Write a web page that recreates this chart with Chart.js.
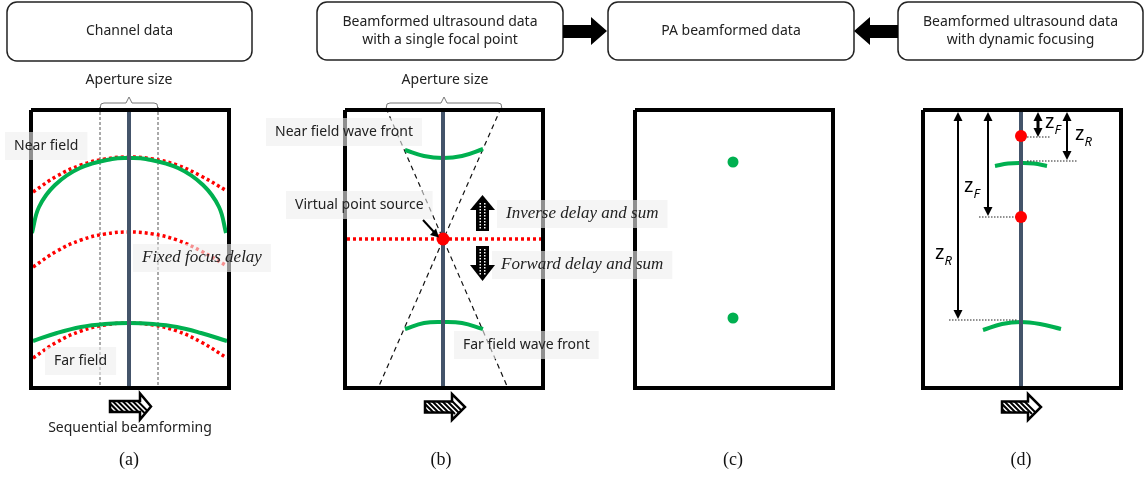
<!DOCTYPE html>
<html>
<head>
<meta charset="utf-8">
<script src="https://cdn.jsdelivr.net/npm/chart.js@4.4.1/dist/chart.umd.min.js"></script>
<style>
html, body { margin: 0; padding: 0; background: #fff; }
#wrap { width: 1148px; height: 477px; position: relative; }
</style>
</head>
<body>
<div id="wrap"><canvas id="fig"></canvas></div>
<script>
// (a) channel data: wave fronts
var nearGreen = [[32,233],[39,207],[55,185],[80,168],[112,159],[129,158],[146,159],[178,168],[203,185],[219,207],[226,233]];
var nearRed = [[33,192],[57,176],[81,165],[105,159],[129,157],[153,159],[177,165],[201,176],[227,191]];
var focusRed = [[33,267],[57,251],[81,240],[105,234],[129,232],[153,234],[177,240],[201,251],[227,266]];
var farGreen = [[33,341],[57,333],[81,327],[105,324],[129,323],[153,324],[177,327],[201,333],[227,341]];
var farRed = [[33,358],[57,342],[81,331],[105,325],[129,323],[153,325],[177,331],[201,342],[227,358]];
var apertureA = [100, 158];

// (b) single focal point
var bNearFront = [[405,150],[424,156],[443,158],[462,156],[483,149]];
var bFarFront = [[405,329],[424,323],[443,322],[462,323],[483,329]];
var bConeA = [[386,108],[507,386]];
var bConeB = [[501,108],[379,386]];
var bFocusLine = [[347,239],[541,239]];
var bFocus = [[443,239]];
var bPointer = [[423,220],[434,232]];

// (c) PA data
var cSources = [[733,162],[733,318]];

// (d) dynamic focusing
var dNearFront = [[995,166],[1008,163.5],[1021,163],[1034,163.5],[1047,166]];
var dFarFront = [[983,330],[1002,324],[1021,322],[1040,324],[1061,329]];
var dFoci = [[1021,136],[1021,217]];
var dArrows = [[958,112,319],[988,112,216],[1038,112,137],[1067,112,160]];
var dGuides = [[949,1018,320],[979,1017,217],[1027,1050,137],[1027,1077,161]];
var dLabels = [['z','R',935,255],['z','F',964,188],['z','F',1045,124],['z','R',1075,136]];

// shared
var frames = [[31,110,229,388],[345,110,543,388],[635,110,833,388],[923,110,1121,388]];
var axisX = [129, 443, 1021];
var braces = [[100,158],[386,502]];
var headers = [[7,2,252,61],[317,2,563,60],[608,2,854,60],[898,2,1143,60]];
var headerText = [['Channel data'], ['Beamformed ultrasound data', 'with a single focal point'], ['PA beamformed data'], ['Beamformed ultrasound data', 'with dynamic focusing']];
var hatchArrows = [[110,140,151,406.5],[425,452,465,407],[1002,1028,1041,407]];
var captions = ['(a)', '(b)', '(c)', '(d)'];
var captionX = [129, 441, 733, 1021];

var SANS = '"Noto Sans", "Open Sans", sans-serif';
var SERIF = '"Liberation Serif", "DejaVu Serif", serif';
var labels = [
    {t: 'Aperture size', x: 129, y: 80, align: 'center'},
    {t: 'Aperture size', x: 445, y: 80, align: 'center'},
    {t: 'Near field', x: 14, y: 146, bg: true},
    {t: 'Fixed focus delay', x: 142, y: 258, bg: true, it: true},
    {t: 'Far field', x: 54, y: 361, bg: true},
    {t: 'Sequential beamforming', x: 130, y: 428, align: 'center'},
    {t: 'Near field wave front', x: 275, y: 132, bg: true},
    {t: 'Virtual point source', x: 295, y: 205, bg: true},
    {t: 'Inverse delay and sum', x: 506, y: 214, bg: true, it: true},
    {t: 'Forward delay and sum', x: 501, y: 265, bg: true, it: true},
    {t: 'Far field wave front', x: 463, y: 345, bg: true}
];

function pts(a) { return a.map(function (p) { return {x: p[0], y: p[1]}; }); }
function line(data, color, width, dash, order, tension) {
    return {
        data: pts(data), showLine: true, borderColor: color, borderWidth: width,
        borderDash: dash || [], borderCapStyle: 'butt', borderJoinStyle: 'miter',
        pointRadius: 0, tension: tension || 0, fill: false, order: order
    };
}
function dots(data, color, r) {
    return {data: pts(data), showLine: false, pointRadius: r, pointBackgroundColor: color,
        pointBorderColor: color, pointBorderWidth: 0, order: 0};
}

var RED = '#ff0000', GREEN = '#00b050', AXIS = '#44546a';
var datasets = [];
apertureA.forEach(function (x) { datasets.push(line([[x,107],[x,388]], '#555', 1, [3,2], 6)); });
braces.forEach(function (b) {
    var m = (b[0] + b[1]) / 2;
    datasets.push(line([[b[0],109],[b[0]+1,104],[b[0]+4,103],[m-3,103],[m,97],[m+3,103],[b[1]-4,103],[b[1]-1,104],[b[1],109]], '#777', 1, [], 6));
});
datasets.push(line(bConeA, '#111', 1.2, [5,4], 6));
datasets.push(line(bConeB, '#111', 1.2, [5,4], 6));
[nearRed, focusRed, farRed].forEach(function (c) { datasets.push(line(c, RED, 3.5, [3,3], 4, 0.4)); });
datasets.push(line(bFocusLine, RED, 3.5, [3,3], 4));
[nearGreen, farGreen, bNearFront, bFarFront, dNearFront, dFarFront].forEach(function (c) {
    datasets.push(line(c, GREEN, 4, [], 3, 0.4));
});
axisX.forEach(function (x) { datasets.push(line([[x,110],[x,388]], AXIS, 4, [], 2)); });
frames.forEach(function (f) {
    datasets.push(line([[f[0],f[1]],[f[2],f[1]],[f[2],f[3]],[f[0],f[3]],[f[0],f[1]]], '#000', 4, [], 1));
});
dGuides.forEach(function (g) { datasets.push(line([[g[0],g[2]],[g[1],g[2]]], '#222', 1, [1.5,1.5], 1)); });
dArrows.forEach(function (a, i) { datasets.push(line([[a[0],a[1]+6],[a[0],a[2]-6]], '#000', i === 2 ? 3 : 2, [], 1)); });
datasets.push(line(bPointer, '#000', 2, [], 1));
datasets.push(dots(bFocus, RED, 6.5));
datasets.push(dots(dFoci, RED, 6));
datasets.push(dots(cSources, GREEN, 5.5));

function tri(ctx, a, b, c) {
    ctx.beginPath(); ctx.moveTo(a[0], a[1]); ctx.lineTo(b[0], b[1]); ctx.lineTo(c[0], c[1]); ctx.closePath(); ctx.fill();
}

var decor = {
    id: 'decor',
    afterDatasetsDraw: function (chart) {
        var ctx = chart.ctx, xs = chart.scales.x, ys = chart.scales.y;
        var X = function (v) { return xs.getPixelForValue(v); };
        var Y = function (v) { return ys.getPixelForValue(v); };
        ctx.save();

        // header boxes
        headers.forEach(function (h, i) {
            ctx.beginPath();
            ctx.roundRect(X(h[0]), Y(h[1]), X(h[2]) - X(h[0]), Y(h[3]) - Y(h[1]), 10);
            ctx.fillStyle = '#fff'; ctx.fill();
            ctx.lineWidth = 1.5; ctx.strokeStyle = '#222'; ctx.stroke();
            ctx.fillStyle = '#222'; ctx.font = '14px ' + SANS;
            ctx.textAlign = 'center'; ctx.textBaseline = 'middle';
            var lines = headerText[i], cx = X((h[0] + h[2]) / 2), cy = Y((h[1] + h[3]) / 2);
            lines.forEach(function (t, k) { ctx.fillText(t, cx, cy + (k - (lines.length - 1) / 2) * 18); });
        });

        // thick arrows between headers
        ctx.fillStyle = '#000';
        ctx.beginPath();
        ctx.moveTo(X(563), Y(25)); ctx.lineTo(X(591), Y(25)); ctx.lineTo(X(591), Y(17)); ctx.lineTo(X(607), Y(31));
        ctx.lineTo(X(591), Y(45)); ctx.lineTo(X(591), Y(38)); ctx.lineTo(X(563), Y(38)); ctx.closePath(); ctx.fill();
        ctx.beginPath();
        ctx.moveTo(X(898), Y(25)); ctx.lineTo(X(870), Y(25)); ctx.lineTo(X(870), Y(17)); ctx.lineTo(X(854), Y(31));
        ctx.lineTo(X(870), Y(45)); ctx.lineTo(X(870), Y(38)); ctx.lineTo(X(898), Y(38)); ctx.closePath(); ctx.fill();

        // labels
        labels.forEach(function (l) {
            ctx.font = l.it ? 'italic 17px ' + SERIF : '14px ' + SANS;
            var w = ctx.measureText(l.t).width;
            var x0 = l.align === 'center' ? X(l.x) - w / 2 : X(l.x);
            if (l.bg) {
                ctx.fillStyle = 'rgba(238,238,238,0.6)';
                ctx.fillRect(x0 - 9, Y(l.y) - 14, w + 18, 28);
            }
            ctx.fillStyle = '#222'; ctx.textAlign = 'left'; ctx.textBaseline = 'middle';
            ctx.fillText(l.t, x0, Y(l.y));
        });

        // z labels
        dLabels.forEach(function (z) {
            ctx.fillStyle = '#000'; ctx.textAlign = 'left'; ctx.textBaseline = 'middle';
            ctx.font = '20px ' + SANS; ctx.fillText(z[0], X(z[2]), Y(z[3]) - 2);
            var w = ctx.measureText(z[0]).width;
            ctx.font = 'italic 13px ' + SANS; ctx.fillText(z[1], X(z[2]) + w, Y(z[3]) + 6);
        });

        // captions
        ctx.font = '18px ' + SERIF; ctx.textAlign = 'center'; ctx.fillStyle = '#111';
        captions.forEach(function (c, i) { ctx.fillText(c, X(captionX[i]), Y(460)); });

        // hatched scan arrows
        hatchArrows.forEach(function (a) {
            var x0 = X(a[0]), xb = X(a[1]), xt = X(a[2]), yc = Y(a[3]);
            ctx.beginPath();
            ctx.moveTo(x0, yc - 5.5); ctx.lineTo(xb, yc - 5.5); ctx.lineTo(xb, yc - 13); ctx.lineTo(xt, yc);
            ctx.lineTo(xb, yc + 13); ctx.lineTo(xb, yc + 5.5); ctx.lineTo(x0, yc + 5.5); ctx.closePath();
            ctx.fillStyle = '#fff'; ctx.fill();
            ctx.save(); ctx.clip();
            ctx.strokeStyle = '#000'; ctx.lineWidth = 2;
            for (var s = x0 - 14; s < xb; s += 5) {
                ctx.beginPath(); ctx.moveTo(s, yc - 7); ctx.lineTo(s + 14, yc + 7); ctx.stroke();
            }
            ctx.restore();
            ctx.beginPath();
            ctx.moveTo(x0, yc - 5.5); ctx.lineTo(xb, yc - 5.5); ctx.lineTo(xb, yc - 13); ctx.lineTo(xt, yc);
            ctx.lineTo(xb, yc + 13); ctx.lineTo(xb, yc + 5.5); ctx.lineTo(x0, yc + 5.5); ctx.closePath();
            ctx.lineWidth = 2.5; ctx.strokeStyle = '#000'; ctx.lineJoin = 'miter'; ctx.stroke();
        });

        // dotted block arrows in (b)
        var cx = X(482.5);
        ctx.fillStyle = '#000';
        tri(ctx, [cx, Y(195)], [cx - 12.5, Y(210)], [cx + 12.5, Y(210)]);
        ctx.fillRect(cx - 6.5, Y(209), 13, Y(231) - Y(209));
        tri(ctx, [cx, Y(281)], [cx - 12.5, Y(265)], [cx + 12.5, Y(265)]);
        ctx.fillRect(cx - 6.5, Y(246), 13, Y(266) - Y(246));
        ctx.fillStyle = '#fff';
        for (var yy = 203; yy < 229; yy += 3) { ctx.fillRect(cx - 3, Y(yy), 1.5, 1.5); ctx.fillRect(cx + 1.5, Y(yy), 1.5, 1.5); }
        for (var yy2 = 249; yy2 < 274; yy2 += 3) { ctx.fillRect(cx - 3, Y(yy2), 1.5, 1.5); ctx.fillRect(cx + 1.5, Y(yy2), 1.5, 1.5); }

        // arrow heads
        ctx.fillStyle = '#000';
        dArrows.forEach(function (a) {
            var x = X(a[0]);
            tri(ctx, [x, Y(a[1])], [x - 4.5, Y(a[1] + 9)], [x + 4.5, Y(a[1] + 9)]);
            tri(ctx, [x, Y(a[2])], [x - 4.5, Y(a[2] - 9)], [x + 4.5, Y(a[2] - 9)]);
        });
        var p = bPointer[1];
        tri(ctx, [X(p[0] + 5), Y(p[1] + 5.5)], [X(p[0] - 4), Y(p[1] + 3)], [X(p[0] + 2), Y(p[1] - 3.5)]);

        ctx.restore();
    }
};

new Chart(document.getElementById('fig').getContext('2d'), {
    type: 'scatter',
    data: {datasets: datasets},
    options: {
        responsive: true,
        maintainAspectRatio: false,
        animation: false,
        events: [],
        layout: {padding: 0, autoPadding: false},
        scales: {
            x: {type: 'linear', min: 0, max: 1148, display: false},
            y: {type: 'linear', min: 0, max: 477, reverse: true, display: false}
        },
        plugins: {legend: {display: false}, tooltip: {enabled: false}}
    },
    plugins: [decor]
});
</script>
</body>
</html>
